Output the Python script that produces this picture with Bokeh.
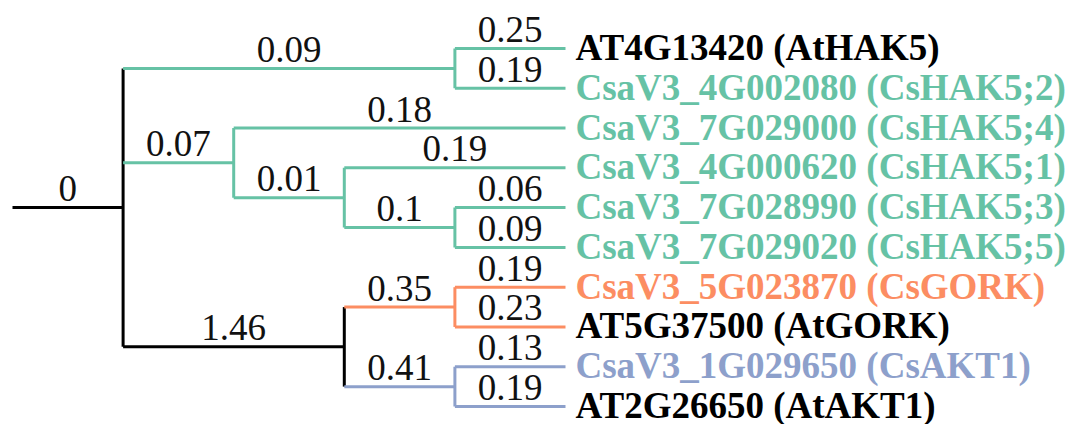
from bokeh.plotting import figure
from bokeh.models import Range1d
from bokeh.core.properties import value
from bokeh.embed import file_html
from bokeh.resources import INLINE

# Tree structure (node id = index)
node_names = ["root", "n_hak5", "AT4G13420 (AtHAK5)", "CsaV3_4G002080 (CsHAK5;2)",
              "n_a", "CsaV3_7G029000 (CsHAK5;4)", "n_b", "CsaV3_4G000620 (CsHAK5;1)",
              "n_c", "CsaV3_7G028990 (CsHAK5;3)", "CsaV3_7G029020 (CsHAK5;5)",
              "n_d", "n_gork", "CsaV3_5G023870 (CsGORK)", "AT5G37500 (AtGORK)",
              "n_akt", "CsaV3_1G029650 (CsAKT1)", "AT2G26650 (AtAKT1)"]
parents = [-1, 0, 1, 1, 0, 4, 4, 6, 6, 8, 8, 0, 11, 12, 12, 11, 15, 15]
branch_lengths = ["0", "0.09", "0.25", "0.19", "0.07", "0.18", "0.01", "0.19",
                  "0.1", "0.06", "0.09", "1.46", "0.35", "0.19", "0.23",
                  "0.41", "0.13", "0.19"]
GREEN, ORANGE, BLUE, BLACK = "#66c2a5", "#fc8d62", "#8da0cb", "#000000"
branch_colors = [BLACK, GREEN, GREEN, GREEN, GREEN, GREEN, GREEN, GREEN,
                 GREEN, GREEN, GREEN, BLACK, ORANGE, ORANGE, ORANGE,
                 BLUE, BLUE, BLUE]
label_colors = [None, None, BLACK, GREEN, None, GREEN, None, GREEN, None, GREEN,
                GREEN, None, None, ORANGE, BLACK, None, BLUE, BLACK]

n = len(node_names)
children = [[] for _ in range(n)]
for i, par in enumerate(parents):
    if par >= 0:
        children[par].append(i)

# leaf order and heights
leaf_y = {}
order = []
def walk(i):
    if not children[i]:
        leaf_y[i] = len(order)
        order.append(i)
    for c in children[i]:
        walk(c)
walk(0)

height = [0] * n
def h(i):
    if children[i]:
        height[i] = 1 + max(h(c) for c in children[i])
    return height[i]
h(0)
max_h = height[0] + 1

ypos = [0.0] * n
def yp(i):
    if children[i]:
        ys = [yp(c) for c in children[i]]
        ypos[i] = (ys[0] + ys[-1]) / 2
    else:
        ypos[i] = float(leaf_y[i])
    return ypos[i]
yp(0)
xpos = [max_h - height[i] for i in range(n)]

xs, ys, cols = [], [], []
lab_x, lab_y, lab_t = [], [], []
for i in range(n):
    px = xpos[parents[i]] if parents[i] >= 0 else xpos[i] - 1
    xs.append([px, xpos[i]]); ys.append([ypos[i], ypos[i]]); cols.append(branch_colors[i])
    lab_x.append((px + xpos[i]) / 2); lab_y.append(ypos[i]); lab_t.append(branch_lengths[i])
    if children[i]:
        xs.append([xpos[i], xpos[i]])
        ys.append([ypos[children[i][0]], ypos[children[i][-1]]])
        cols.append(branch_colors[i])

W, H = 1070, 424
sx = 110.6
sy = 39.78
x0_px, y0_px = 12, 48
p = figure(width=W, height=H, output_backend="svg", toolbar_location=None,
           x_range=Range1d(-x0_px / sx, (W - x0_px) / sx),
           y_range=Range1d((H - y0_px) / sy, -y0_px / sy),
           min_border=0, border_fill_color="white", outline_line_color=None)
p.axis.visible = False
p.grid.visible = False

p.multi_line(xs=xs, ys=ys, line_color=cols, line_width=3)

p.text(x=lab_x, y=lab_y, text=lab_t, text_align="center", text_baseline="alphabetic",
       y_offset=-19, text_font=value("Liberation Serif"), text_font_size="37px",
       text_color="#111111")

leaves = [i for i in order]
p.text(x=[xpos[i] for i in leaves], y=[ypos[i] for i in leaves],
       text=[node_names[i] for i in leaves], text_color=[label_colors[i] for i in leaves],
       text_align="left", text_baseline="alphabetic", x_offset=10, y_offset=-1,
       text_font=value("Liberation Serif"), text_font_style="bold", text_font_size="37px")

open("out.html", "w").write(file_html(p, INLINE))
